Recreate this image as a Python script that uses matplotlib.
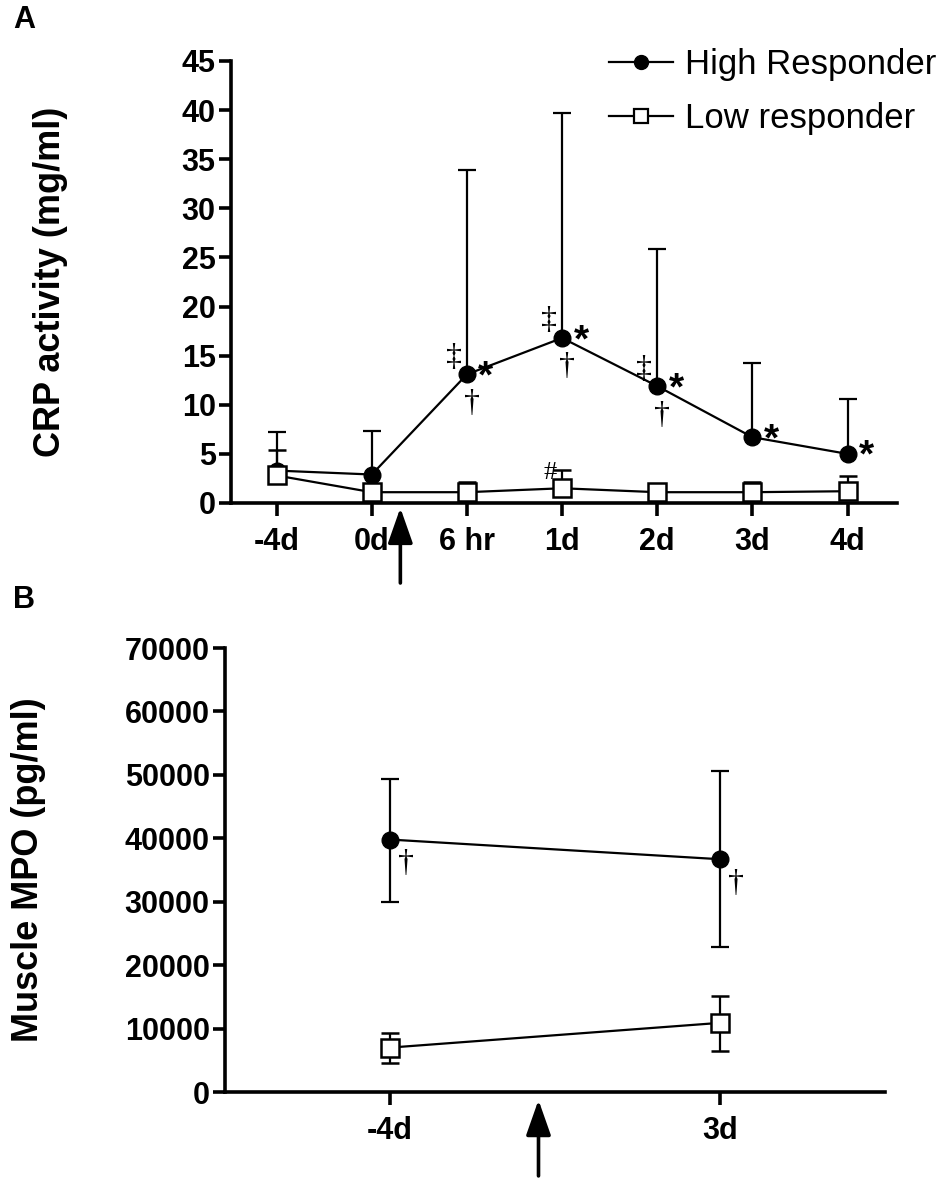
import numpy as np
import matplotlib
matplotlib.use("Agg")
import matplotlib.pyplot as plt
from matplotlib.lines import Line2D

plt.rcParams['font.family'] = ['Liberation Sans', 'DejaVu Sans']

# panel A: CRP activity
labels_a = ['-4d', '0d', '6 hr', '1d', '2d', '3d', '4d']
high_a = [3.3, 2.9, 13.1, 16.8, 11.9, 6.7, 5.0]
high_a_top = [7.2, 7.3, 33.9, 39.7, 25.9, 14.3, 10.6]
low_a = [2.8, 1.1, 1.1, 1.5, 1.1, 1.1, 1.2]
low_a_top = [5.4, 1.5, 2.1, 3.4, 1.6, 2.1, 2.7]
high_a_marks = ['', '', '‡*†', '‡*†', '‡*†', '*', '*']
low_a_marks = ['', '', '', '#', '', '', '']

# panel B: muscle MPO
labels_b = ['-4d', '3d']
high_b = [39800, 36700]
high_b_lo = [30000, 22800]
high_b_hi = [49400, 50600]
low_b = [7000, 10900]
low_b_lo = [4500, 6400]
low_b_hi = [9300, 15100]

W, H = 950, 1178
fig = plt.figure(figsize=(W / 100, H / 100), dpi=100)
axA = fig.add_axes([231 / W, 1 - 503 / H, (897 - 231) / W, (503 - 61) / H])
axB = fig.add_axes([225 / W, 1 - 1092 / H, (885 - 225) / W, (1092 - 648) / H])

high_style = dict(color='black', lw=1.6, marker='o', ms=12, mfc='black', mec='black',
                  capsize=6.5, capthick=1.6, elinewidth=1.6)
low_style = dict(color='black', lw=1.6, marker='s', ms=13, mfc='white', mec='black', mew=1.8,
                 capsize=6.5, capthick=1.6, elinewidth=1.6)


def upper_only(ax, x, y, top, zorder, style):
    y = np.array(y)
    err = [np.zeros_like(y), np.array(top) - y]
    eb = ax.errorbar(x, y, yerr=err, zorder=zorder, **style)
    eb[1][0].set_visible(False)
    return eb


xa = np.arange(len(labels_a))
ebh = upper_only(axA, xa, high_a, high_a_top, 2, high_style)
ebl = upper_only(axA, xa, low_a, low_a_top, 3, low_style)

sym = dict(family=['Liberation Serif', 'DejaVu Serif'], fontsize=23, ha='center', va='center')
for i, m in enumerate(high_a_marks):
    if '‡' in m:
        axA.annotate('‡', (xa[i], high_a[i]), xytext=(-13, 17), textcoords='offset pixels', **sym)
    if '†' in m:
        axA.annotate('†', (xa[i], high_a[i]), xytext=(5, -29), textcoords='offset pixels', **sym)
    if '*' in m:
        axA.annotate('*', (xa[i], high_a[i]), xytext=(19, -3), textcoords='offset pixels',
                     fontsize=28, fontweight='bold', ha='center', va='center')
for i, m in enumerate(low_a_marks):
    if m:
        axA.annotate(m, (xa[i], low_a[i]), xytext=(-12, 15), textcoords='offset pixels',
                     family=['Liberation Serif', 'DejaVu Serif'], fontsize=19, ha='center', va='center')

axA.set_xlim(-0.48, 6.52)
axA.set_ylim(0, 45)
axA.set_yticks(np.arange(0, 46, 5))
axA.set_xticks(xa)
axA.set_xticklabels(labels_a)
axA.set_ylabel('CRP activity (mg/ml)', fontsize=26, fontweight='bold', va='center')
axA.yaxis.set_label_coords((51 - 231) / 666, 0.5)

xb = np.arange(len(labels_b))
axB.errorbar(xb, high_b, yerr=[np.array(high_b) - high_b_lo, np.array(high_b_hi) - high_b],
             zorder=2, **high_style)
axB.errorbar(xb, low_b, yerr=[np.array(low_b) - low_b_lo, np.array(low_b_hi) - low_b],
             zorder=3, **low_style)
for i in xb:
    axB.annotate('†', (xb[i], high_b[i]), xytext=(16, -24), textcoords='offset pixels', **sym)

axB.set_xlim(-0.5, 1.5)
axB.set_ylim(0, 70000)
axB.set_yticks(np.arange(0, 70001, 10000))
axB.set_xticks(xb)
axB.set_xticklabels(labels_b)
axB.set_ylabel('Muscle MPO (pg/ml)', fontsize=26, fontweight='bold', va='center')
axB.yaxis.set_label_coords((29 - 225) / 660, 0.5)

for ax in (axA, axB):
    for s in ('top', 'right'):
        ax.spines[s].set_visible(False)
    for s in ('left', 'bottom'):
        ax.spines[s].set_linewidth(2.6)
    ax.tick_params(axis='both', width=2.6, length=9)
    ax.tick_params(axis='y', labelsize=22, pad=2)
    ax.tick_params(axis='x', labelsize=22, pad=8)
    for t in ax.get_xticklabels() + ax.get_yticklabels():
        t.set_fontweight('bold')

# treatment arrows under the x axis
arrow = dict(arrowstyle='-|>,head_length=1.08,head_width=0.38', lw=2.6, color='black',
             mutation_scale=20, shrinkA=0, shrinkB=0)
axA.annotate('', xy=(1.3, -0.011), xycoords=('data', 'axes fraction'),
             xytext=(1.3, -0.181), textcoords=('data', 'axes fraction'),
             arrowprops=arrow, annotation_clip=False)
axB.annotate('', xy=(0.45, -0.018), xycoords=('data', 'axes fraction'),
             xytext=(0.45, -0.189), textcoords=('data', 'axes fraction'),
             arrowprops=arrow, annotation_clip=False)

handles = [Line2D([], [], color='black', lw=1.6, marker='o', ms=10, mfc='black'),
           Line2D([], [], color='black', lw=1.6, marker='s', ms=10, mfc='white', mew=1.6)]
fig.legend(handles, ['High Responder', 'Low responder'], loc='upper left',
           bbox_to_anchor=(609 / W, 1 - 48 / H), frameon=False, fontsize=25,
           handlelength=1.85, handletextpad=0.35, labelspacing=0.6,
           borderpad=0, borderaxespad=0)

fig.text(24 / W, 1 - 20 / H, 'A', fontsize=22, fontweight='bold', ha='center', va='center')
fig.text(24 / W, 1 - 600 / H, 'B', fontsize=22, fontweight='bold', ha='center', va='center')

fig.savefig('out.png', dpi=100)
